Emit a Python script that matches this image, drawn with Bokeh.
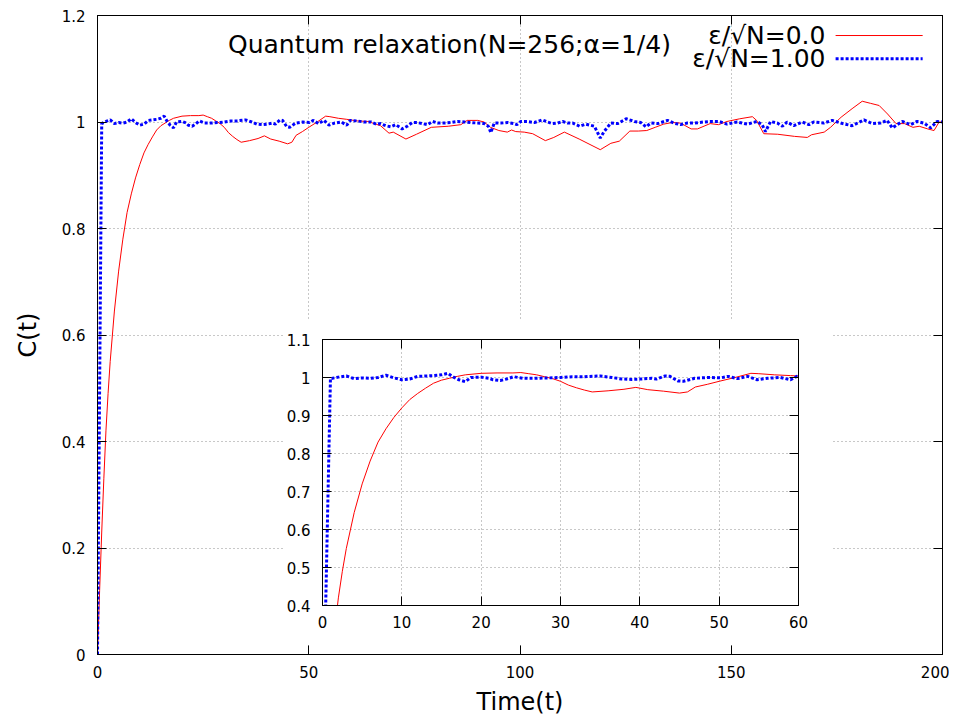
from bokeh.plotting import figure
from bokeh.models import Range1d, LinearAxis, Label, GridBox, FixedTicker
from bokeh.layouts import column
from bokeh.embed import file_html
from bokeh.resources import INLINE

# ---------------- data ----------------
t_red = [0, 0.5, 1, 1.5, 2, 2.5, 3, 4, 5, 6, 7, 8, 9, 10, 11, 12, 13, 14, 15, 16, 17, 18, 20, 22, 24,
         25, 26, 27, 28, 29, 30, 31, 32, 33, 34, 36, 38, 39.5, 41, 43, 45, 46, 47, 48.5, 50, 52, 54,
         55, 57, 59, 61.5, 64, 67, 69, 70, 73, 75.5, 79, 83, 86, 87.5, 90, 91.5, 93, 95, 97, 98, 99,
         101, 103, 106, 108, 110.5, 114, 119, 121.5, 123.5, 126, 128, 130, 132, 134, 136, 138, 140.5,
         142, 145, 147, 149, 152, 155, 156, 157.7, 161, 165, 168, 169, 172, 173.5, 176, 178.6, 181,
         183, 185, 187, 189, 191, 193, 194.5, 196.5, 198, 199.2, 200]
c_red = [0, 0.12, 0.23, 0.33, 0.42, 0.49, 0.55, 0.645, 0.72, 0.78, 0.83, 0.865, 0.895, 0.92, 0.942,
         0.958, 0.972, 0.985, 0.993, 0.998, 1.003, 1.007, 1.011, 1.012, 1.012, 1.013, 1.010, 1.007,
         1.002, 0.997, 0.990, 0.980, 0.973, 0.967, 0.962, 0.965, 0.969, 0.974, 0.968, 0.964, 0.959,
         0.962, 0.975, 0.982, 0.990, 1.000, 1.011, 1.010, 1.007, 1.005, 1.002, 1.001, 0.993, 0.979,
         0.981, 0.968, 0.977, 0.990, 0.992, 0.995, 1.003, 1.003, 1.000, 0.990, 0.984, 0.981, 0.985,
         0.982, 0.981, 0.978, 0.965, 0.971, 0.981, 0.968, 0.948, 0.960, 0.964, 0.983, 0.983, 0.984,
         0.990, 0.996, 0.999, 0.998, 0.987, 0.987, 0.997, 0.995, 1.001, 1.006, 1.010, 1.003, 0.978,
         0.977, 0.973, 0.971, 0.976, 0.981, 0.990, 1.009, 1.025, 1.039, 1.035, 1.031, 1.015, 0.997,
         0.997, 0.990, 0.992, 0.987, 0.984, 1.000, 1.000]

t_blue = [0, 1, 2, 3, 4, 5, 6, 7, 8, 9, 10, 11, 12, 13, 14, 15, 15.8, 16.5, 17.2, 18, 18.7, 20, 21,
          21.5, 22.4, 23.2, 24.1, 25.3, 27, 28.6, 30, 31.5, 33, 35, 36.5, 37.7, 39, 40.2, 41.5, 42.1,
          43.2, 43.8, 44.8, 45.5, 46.9, 48.6, 50.2, 51.1, 52.3, 53.6, 54.8, 56.1, 57.7, 59, 59.8,
          61.5, 63, 64.7, 66, 67, 68.2, 69.4, 70.6, 72.1, 73.3, 74.5, 75.7, 76.9, 78.1, 79.3, 80.5,
          82, 83.6, 85.2, 86.8, 88.4, 90, 91.5, 92.5, 93.1, 93.9, 95.5, 97.1, 98.6, 99.3, 100.2,
          101.8, 103.4, 105.3, 106.5, 107.7, 108.9, 110.1, 111.3, 112.5, 114.1, 115.6, 117.6, 119,
          119.9, 121.5, 123.1, 125.1, 127.1, 128.6, 129.8, 131, 132.6, 134.9, 136.4, 138, 139.6,
          141.2, 143.5, 145.1, 147.1, 149, 151.4, 153.8, 156.1, 157.3, 158.1, 159.3, 160.9, 162.1,
          163.2, 164.8, 166.8, 168.4, 169.5, 171.9, 173.9, 175.9, 178.6, 181.4, 183.4, 185.3, 186.9,
          188.1, 188.9, 190.5, 192.4, 194, 195.6, 197.2, 198.7, 200]
c_blue = [0, 0.997, 1.001, 1.004, 0.997, 0.999, 0.998, 1.000, 1.006, 0.999, 0.994, 0.996, 1.003,
          1.004, 1.005, 1.007, 1.011, 1.001, 0.994, 0.989, 1.000, 1.001, 0.998, 0.994, 0.992, 0.996,
          1.002, 0.998, 0.998, 0.999, 1.000, 1.002, 1.002, 1.004, 1.000, 0.996, 0.995, 0.996, 0.998,
          0.996, 1.004, 1.003, 0.991, 0.990, 0.998, 1.000, 0.999, 1.003, 0.997, 1.003, 0.994, 0.998,
          1.000, 0.994, 1.003, 1.002, 1.000, 1.000, 0.996, 0.997, 0.993, 0.991, 0.995, 0.987, 0.992,
          0.999, 0.999, 0.997, 0.995, 1.001, 0.998, 0.998, 0.999, 1.001, 1.000, 0.999, 0.998, 0.997,
          0.992, 0.980, 0.998, 0.998, 0.999, 0.997, 0.995, 1.001, 1.001, 0.999, 1.004, 1.000, 0.997,
          0.998, 1.001, 0.998, 0.998, 0.992, 0.996, 0.992, 0.970, 0.982, 0.998, 0.997, 1.006, 1.001,
          0.999, 0.991, 0.998, 0.997, 1.003, 0.998, 0.995, 0.998, 0.998, 1.000, 1.001, 1.001, 0.996,
          1.000, 0.996, 1.001, 0.995, 0.982, 1.001, 0.998, 0.992, 1.000, 0.993, 1.000, 0.995, 1.000,
          0.998, 1.003, 0.998, 0.993, 1.004, 0.997, 0.998, 1.003, 0.989, 0.993, 1.001, 0.995, 1.001,
          0.998, 0.989, 1.001, 1.000]

main_xticks = [0, 50, 100, 150, 200]
main_yticks = [0, 0.2, 0.4, 0.6, 0.8, 1.0, 1.2]
main_ylabels = ["0", "0.2", "0.4", "0.6", "0.8", "1", "1.2"]
inset_xticks = [0, 10, 20, 30, 40, 50, 60]
inset_yticks = [0.4, 0.5, 0.6, 0.7, 0.8, 0.9, 1.0, 1.1]
inset_ylabels = ["0.4", "0.5", "0.6", "0.7", "0.8", "0.9", "1", "1.1"]
title_text = "Quantum relaxation(N=256;\u03b1=1/4)"
legend_labels = ["\u03b5/\u221aN=0.0", "\u03b5/\u221aN=1.00"]
x_label = "Time(t)"
y_label = "C(t)"

FONT = "DejaVu Sans"
RED = "#ff0000"
BLUE = "#0000ff"
GRID = "#909090"


def style_axis(ax, ticks, labels=None, show_labels=True, size="15px"):
    ax.ticker = FixedTicker(ticks=ticks)
    ax.minor_tick_line_color = None
    ax.major_tick_in = 9
    ax.major_tick_out = 0
    ax.axis_line_color = "black"
    ax.major_tick_line_color = "black"
    ax.major_label_text_font = FONT
    ax.major_label_text_color = "black"
    ax.axis_label_text_font = FONT
    ax.axis_label_text_font_style = "normal"
    ax.axis_label_text_color = "black"
    if show_labels:
        if labels is not None:
            ax.major_label_overrides = {k: v for k, v in zip(ticks, labels)}
        ax.major_label_text_font_size = size
    else:
        ax.major_label_overrides = {k: "" for k in ticks}
        ax.major_label_standoff = 0
        ax.axis_label_standoff = 0


def style_grid(fig, xt, yt):
    fig.xgrid.ticker = FixedTicker(ticks=xt)
    fig.ygrid.ticker = FixedTicker(ticks=yt)
    for g in (fig.xgrid[0], fig.ygrid[0]):
        g.grid_line_color = GRID
        g.grid_line_dash = "1 3"
        g.grid_line_width = 1


# ---------------- main figure ----------------
p = figure(width=949, height=718, output_backend="svg", toolbar_location=None,
           x_range=Range1d(0, 200), y_range=Range1d(0, 1.2),
           min_border_left=97, min_border_right=7, min_border_top=15, min_border_bottom=64)
p.background_fill_color = "white"
p.border_fill_color = "white"
p.outline_line_color = "black"
p.outline_line_width = 1

style_axis(p.xaxis[0], main_xticks, [str(v) for v in main_xticks])
style_axis(p.yaxis[0], main_yticks, main_ylabels)
p.xaxis[0].major_label_standoff = 11
p.yaxis[0].major_label_standoff = 12
p.xaxis[0].axis_label = x_label
p.xaxis[0].axis_label_text_font_size = "24px"
p.xaxis[0].axis_label_standoff = 7
p.yaxis[0].axis_label = y_label
p.yaxis[0].axis_label_text_font_size = "24px"
p.yaxis[0].axis_label_standoff = 17

top_ax = LinearAxis()
style_axis(top_ax, main_xticks, show_labels=False)
p.add_layout(top_ax, "above")
right_ax = LinearAxis()
style_axis(right_ax, main_yticks, show_labels=False)
p.add_layout(right_ax, "right")

style_grid(p, main_xticks[1:-1], main_yticks[1:-1])

p.line(t_red, c_red, line_color=RED, line_width=1)
p.line(t_blue, c_blue, line_color=BLUE, line_width=3, line_dash="3 2")

p.add_layout(Label(x=83.3, y=1.1455, text=title_text, text_align="center", text_baseline="middle",
                   text_font=FONT, text_font_size="25px", text_color="black"))

# legend (text left of sample, as in the reference)
leg_y = [1.1624, 1.119]
leg_colors = [RED, BLUE]
leg_widths = [1, 3]
leg_dash = ["solid", "3 2"]
for lab, yy, col, w, d in zip(legend_labels, leg_y, leg_colors, leg_widths, leg_dash):
    p.add_layout(Label(x=172.3, y=yy, text=lab, text_align="right", text_baseline="middle",
                       text_font=FONT, text_font_size="25px", text_color="black"))
    p.line([174.7, 195.3], [yy, yy], line_color=col, line_width=w, line_dash=d)

# ---------------- inset figure ----------------
q = figure(width=550, height=325, output_backend="svg", toolbar_location=None,
           x_range=Range1d(0, 60), y_range=Range1d(0.4, 1.1),
           min_border_left=35, min_border_right=35, min_border_top=19, min_border_bottom=40)
q.background_fill_color = "white"
q.border_fill_color = "white"
q.outline_line_color = "black"
q.outline_line_width = 1
style_axis(q.xaxis[0], inset_xticks, [str(v) for v in inset_xticks])
style_axis(q.yaxis[0], inset_yticks, inset_ylabels)
q.xaxis[0].major_label_standoff = 10
q.yaxis[0].major_label_standoff = 12
qt = LinearAxis()
style_axis(qt, inset_xticks, show_labels=False)
q.add_layout(qt, "above")
qr = LinearAxis()
style_axis(qr, inset_yticks, show_labels=False)
q.add_layout(qr, "right")
style_grid(q, inset_xticks[1:-1], inset_yticks[1:-1])

q.line(t_red, c_red, line_color=RED, line_width=1)
q.line(t_blue, c_blue, line_color=BLUE, line_width=3, line_dash="3 2")

inset_box = column(q, margin=(320, 0, 0, 283))
layout = GridBox(children=[(p, 0, 0), (inset_box, 0, 0)])

open("out.html", "w").write(file_html(layout, INLINE))
